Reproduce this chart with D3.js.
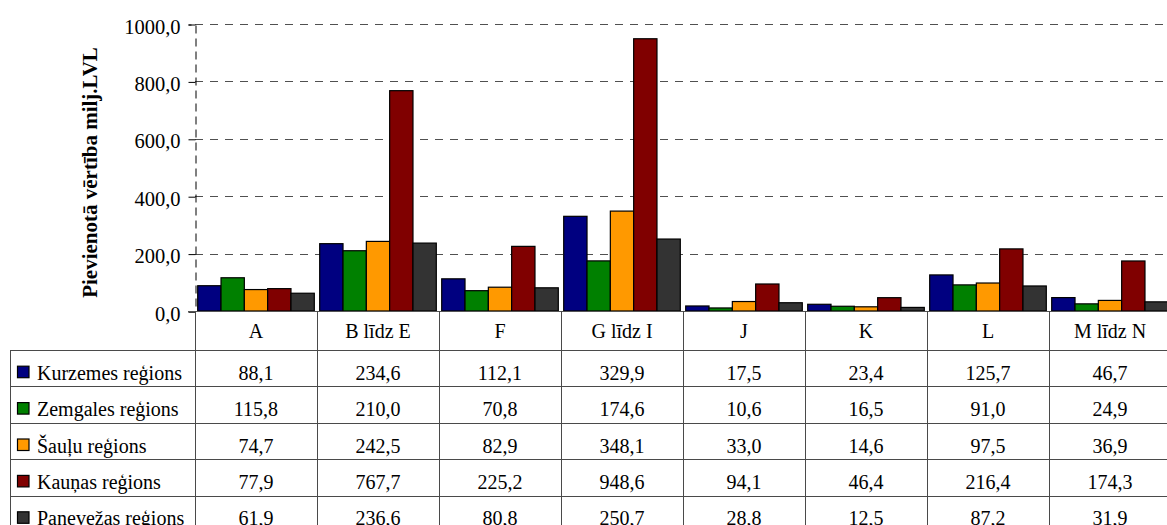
<!DOCTYPE html>
<html><head><meta charset="utf-8">
<script src="https://cdn.jsdelivr.net/npm/d3@7"></script>
<style>body{margin:0;background:#fff}svg{display:block}</style>
</head><body><svg id="c" width="1167" height="525"></svg>
<script>
const categories = ["A","B līdz E","F","G līdz I","J","K","L","M līdz N"];
const seriesNames = ["Kurzemes reģions","Zemgales reģions","Šauļu reģions","Kauņas reģions","Panevežas reģions"];
const kurzeme = [88.1,234.6,112.1,329.9,17.5,23.4,125.7,46.7];
const zemgale = [115.8,210.0,70.8,174.6,10.6,16.5,91.0,24.9];
const saulu = [74.7,242.5,82.9,348.1,33.0,14.6,97.5,36.9];
const kaunas = [77.9,767.7,225.2,948.6,94.1,46.4,216.4,174.3];
const panevezas = [61.9,236.6,80.8,250.7,28.8,12.5,87.2,31.9];
const colors = ["#000080","#008000","#FF9900","#800000","#333333"];
const yTicks = [0,200,400,600,800,1000];
const yTitle = "Pievienotā vērtība milj.LVL";

const FONT = '"Liberation Serif"';
const seriesValues = [kurzeme,zemgale,saulu,kaunas,panevezas];
const svg = d3.select("#c");
const plotLeft = 195, colW = 122, plotTop = 24, base = 311;
const fmt = v => v.toFixed(1).replace(".", ",");

const x0 = d3.scaleBand().domain(categories).range([plotLeft, plotLeft + colW*categories.length]);
const x1 = d3.scaleBand().domain(d3.range(seriesNames.length)).range([2.7, colW-2.7]);
const y = d3.scaleLinear().domain([0,1000]).range([base, plotTop]);

svg.append("g").selectAll("line").data(yTicks.filter(d=>d>0)).join("line")
  .attr("x1", plotLeft).attr("x2", 1167)
  .attr("y1", d=>Math.round(y(d))+0.5).attr("y2", d=>Math.round(y(d))+0.5)
  .attr("stroke","#505050").attr("stroke-dasharray","8,7");

const yAxis = d3.axisLeft(y).tickValues(yTicks).tickFormat(fmt).tickSize(7).tickPadding(8);
const ga = svg.append("g").attr("transform",`translate(${plotLeft+0.5},0.5)`).call(yAxis);
ga.select(".domain").attr("stroke","#000").attr("stroke-dasharray","8,5");
ga.selectAll(".tick line").attr("stroke","#000");
ga.selectAll(".tick text").style("font-family",FONT).style("font-size","20.5px").attr("fill","#000").attr("dy","0.42em");

const g = svg.append("g");
categories.forEach((c,ci)=>{
  seriesValues.forEach((vals,si)=>{
    g.append("rect")
      .attr("x", x0(c)+x1(si)).attr("width", x1.bandwidth())
      .attr("y", y(vals[ci])).attr("height", base - y(vals[ci]))
      .attr("fill", colors[si]).attr("stroke","#000").attr("stroke-width",1.2);
  });
});

svg.append("line").attr("x1",plotLeft-7).attr("x2",1167).attr("y1",base+0.5).attr("y2",base+0.5).attr("stroke","#555");

svg.append("text").attr("transform",`translate(97,${(40+305)/2}) rotate(-90)`)
  .attr("text-anchor","middle").style("font-family",FONT).style("font-weight","bold").style("font-size","21px").text(yTitle);

const headTop = base, headBot = 350, rowH = 36.4, tableLeft = 10.5;
const rowY = i => headBot + i*rowH;
const lineCol = "#4a4a4a";
const tg = svg.append("g");
for (let i=0;i<=seriesNames.length;i++){
  tg.append("line").attr("x1", tableLeft).attr("x2",1167)
    .attr("y1", Math.round(rowY(i))+0.5).attr("y2", Math.round(rowY(i))+0.5).attr("stroke",lineCol);
}
tg.append("line").attr("x1",tableLeft).attr("x2",tableLeft).attr("y1",headBot).attr("y2",rowY(seriesNames.length)).attr("stroke",lineCol);
categories.forEach(c=>{
  tg.append("line").attr("x1",Math.round(x0(c))+0.5).attr("x2",Math.round(x0(c))+0.5).attr("y1",headTop).attr("y2",rowY(seriesNames.length)).attr("stroke",lineCol);
});
tg.selectAll("text.h").data(categories).join("text").attr("class","h")
  .attr("x", d=>x0(d)+colW/2).attr("y",338)
  .attr("text-anchor","middle").style("font-family",FONT).style("font-size","20px").text(d=>d);
seriesNames.forEach((name,si)=>{
  const cy = rowY(si)+rowH/2;
  tg.append("rect").attr("x",17.5).attr("y",cy-2).attr("width",11.5).attr("height",11.5)
    .attr("fill",colors[si]).attr("stroke","#000").attr("stroke-width",1.2);
  tg.append("text").attr("x",37).attr("y",cy+11.5).style("font-family",FONT).style("font-size","20px").text(name);
  categories.forEach((c,ci)=>{
    tg.append("text").attr("x",x0(c)+colW/2).attr("y",cy+11.5).attr("text-anchor","middle")
      .style("font-family",FONT).style("font-size","20px").text(fmt(seriesValues[si][ci]));
  });
});
</script></body></html>
